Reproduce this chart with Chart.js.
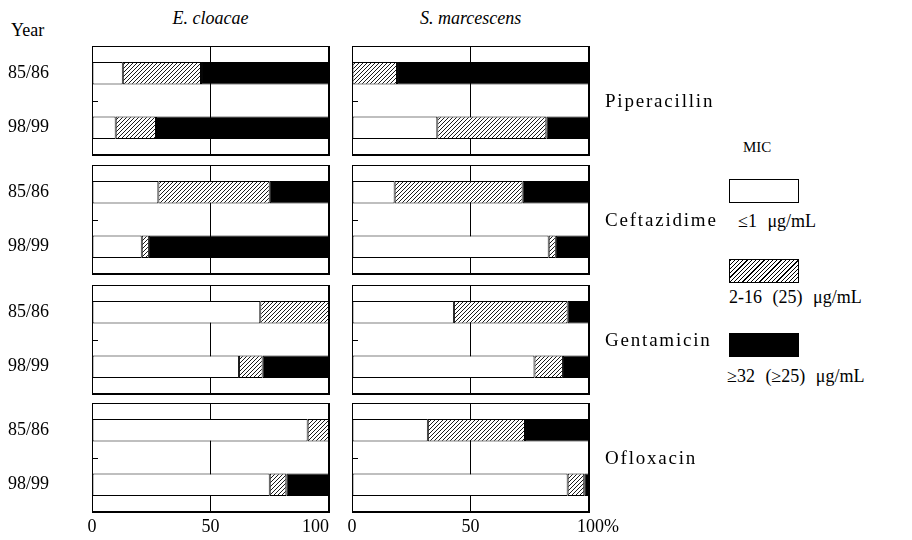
<!DOCTYPE html>
<html>
<head>
<meta charset="utf-8">
<script src="https://cdn.jsdelivr.net/npm/chart.js"></script>
<style>
  body { margin: 0; background: #fff; }
  #page { position: relative; width: 912px; height: 540px; overflow: hidden; font-family: "Liberation Serif", serif; color: #000; }
  #page canvas { position: absolute; }
  .txt { position: absolute; white-space: nowrap; line-height: 1; }
  .drug { position: absolute; left: 605px; height: 109px; display: flex; align-items: center; font-size: 19px; letter-spacing: 1.8px; }
  .box { position: absolute; left: 729px; width: 68px; height: 22px; border: 1px solid #000; }
  .mic { font-size: 18px; word-spacing: 6px; }
</style>
</head>
<body>
<div id="page">
  <div class="txt" style="left:11px;top:21px;font-size:18px;">Year</div>
  <div class="txt" id="org0" style="top:9px;font-size:18px;font-style:italic;"></div>
  <div class="txt" id="org1" style="top:9px;font-size:18px;font-style:italic;"></div>

  <div class="txt" style="left:743px;top:140px;font-size:15px;">MIC</div>
  <div class="box" style="top:179px;background:#fff;"></div>
  <div class="txt mic" id="mic0" style="left:738px;top:212px;"></div>
  <div class="box" style="top:259px;background:repeating-linear-gradient(135deg,#000 0 0.8px,#fff 0.8px 3px);"></div>
  <div class="txt mic" id="mic1" style="left:729px;top:288px;"></div>
  <div class="box" style="top:333px;background:#000;"></div>
  <div class="txt mic" id="mic2" style="left:727px;top:367px;"></div>
</div>
<script>
const years = ["85/86", "98/99"];
const drugs = ["Piperacillin", "Ceftazidime", "Gentamicin", "Ofloxacin"];
const organisms = ["E. cloacae", "S. marcescens"];
const mic = ["≤1 μg/mL", "2-16 (25) μg/mL", "≥32 (≥25) μg/mL"];
const xTicks = [0, 50, 100];

// percent of strains, one pair [85/86, 98/99] per drug
const cloacaeLow = [[13, 10], [28, 21], [71, 62], [91, 75]];
const cloacaeMid = [[33, 17], [47, 3], [29, 10], [9, 7]];
const cloacaeHigh = [[54, 73], [25, 76], [0, 28], [0, 18]];
const marcescensLow = [[0, 36], [18, 83], [43, 77], [32, 91]];
const marcescensMid = [[19, 46], [54, 3], [48, 12], [41, 7]];
const marcescensHigh = [[81, 18], [28, 14], [9, 11], [27, 2]];

// layout
const panelX = [92, 352];
const panelY = [46, 165, 285, 403];
const panelW = 237;
const panelH = 109;

Chart.defaults.font.family = '"Liberation Serif", serif';
Chart.defaults.font.size = 18;
Chart.defaults.color = "#000";

const page = document.getElementById("page");

function hatch() {
  const c = document.createElement("canvas");
  c.width = 4;
  c.height = 4;
  const g = c.getContext("2d");
  g.fillStyle = "#fff";
  g.fillRect(0, 0, 4, 4);
  g.strokeStyle = "#000";
  g.lineWidth = 0.9;
  g.beginPath();
  g.moveTo(-1, 5); g.lineTo(5, -1);
  g.moveTo(-1, 1); g.lineTo(1, -1);
  g.moveTo(3, 5); g.lineTo(5, 3);
  g.stroke();
  return g.createPattern(c, "repeat");
}
const hatchFill = hatch();

const frame = {
  id: "frame",
  afterDraw(chart) {
    const a = chart.chartArea;
    const ctx = chart.ctx;
    const mid = chart.scales.y.getPixelForValue(0.5);
    ctx.save();
    ctx.strokeStyle = "#000";
    ctx.lineWidth = 1;
    ctx.strokeRect(a.left + 0.5, a.top + 0.5, a.right - a.left - 1, a.bottom - a.top - 1);
    ctx.beginPath();
    ctx.moveTo(a.left, Math.round(mid) + 0.5);
    ctx.lineTo(a.left + 6, Math.round(mid) + 0.5);
    ctx.stroke();
    ctx.restore();
  }
};

// tick text; the padding spaces just nudge "100" the way the printed axis has it
function tickText(v, first) {
  if (v !== 100) return String(v);
  return first ? "100\u2007\u2007\u2007" : "\u2007\u2007100%";
}

function makePanel(row, col) {
  const first = col === 0;
  const last = row === drugs.length - 1;
  const low = first ? cloacaeLow : marcescensLow;
  const mid = first ? cloacaeMid : marcescensMid;
  const high = first ? cloacaeHigh : marcescensHigh;

  const padLeft = first ? 8 : 14;
  const padRight = 32;
  const left = panelX[col] - (first ? panelX[0] : padLeft);
  const top = panelY[row] - 2;
  const w = panelX[col] + panelW + padRight - left;
  const h = panelH + 2 + (last ? 30 : 2);

  const cv = document.createElement("canvas");
  cv.width = w;
  cv.height = h;
  cv.style.left = left + "px";
  cv.style.top = top + "px";
  page.appendChild(cv);

  const seg = (label, data, fill) => ({
    label: label,
    data: data,
    backgroundColor: fill,
    borderColor: "#000",
    borderWidth: 1,
    borderSkipped: false,
    barPercentage: 0.82,
    categoryPercentage: 0.5
  });

  new Chart(cv, {
    type: "bar",
    data: {
      labels: years,
      datasets: [
        seg(mic[0], low[row], "#fff"),
        seg(mic[1], mid[row], hatchFill),
        seg(mic[2], high[row], "#000")
      ]
    },
    options: {
      indexAxis: "y",
      responsive: false,
      animation: false,
      layout: { padding: { left: padLeft, right: padRight, top: 2, bottom: last ? 0 : 2 } },
      plugins: { legend: { display: false }, tooltip: { enabled: false } },
      scales: {
        x: {
          stacked: true,
          min: 0,
          max: 100,
          afterBuildTicks: s => { s.ticks = xTicks.map(v => ({ value: v })); },
          ticks: {
            display: last,
            padding: 4,
            maxRotation: 0,
            callback: v => tickText(v, first)
          },
          grid: { color: "#000", lineWidth: 1, drawTicks: false },
          border: { color: "#000" },
          afterFit: s => { s.height = last ? 30 : 0; s.paddingLeft = 0; s.paddingRight = 0; }
        },
        y: {
          stacked: true,
          ticks: { display: first, crossAlign: "far", padding: 0 },
          grid: { display: false, drawTicks: false },
          border: { color: "#000" },
          afterFit: s => { s.width = first ? panelX[0] - padLeft : 0; s.paddingTop = 0; s.paddingBottom = 0; }
        }
      }
    },
    plugins: [frame]
  });
}

for (let r = 0; r < drugs.length; r++) {
  for (let c = 0; c < organisms.length; c++) makePanel(r, c);
  const d = document.createElement("div");
  d.className = "drug";
  d.style.top = panelY[r] + "px";
  d.textContent = drugs[r];
  page.appendChild(d);
}

organisms.forEach((name, i) => {
  const el = document.getElementById("org" + i);
  el.textContent = name;
  el.style.left = (panelX[i] + panelW / 2 - el.offsetWidth / 2) + "px";
});
mic.forEach((t, i) => { document.getElementById("mic" + i).textContent = t; });
</script>
</body>
</html>
